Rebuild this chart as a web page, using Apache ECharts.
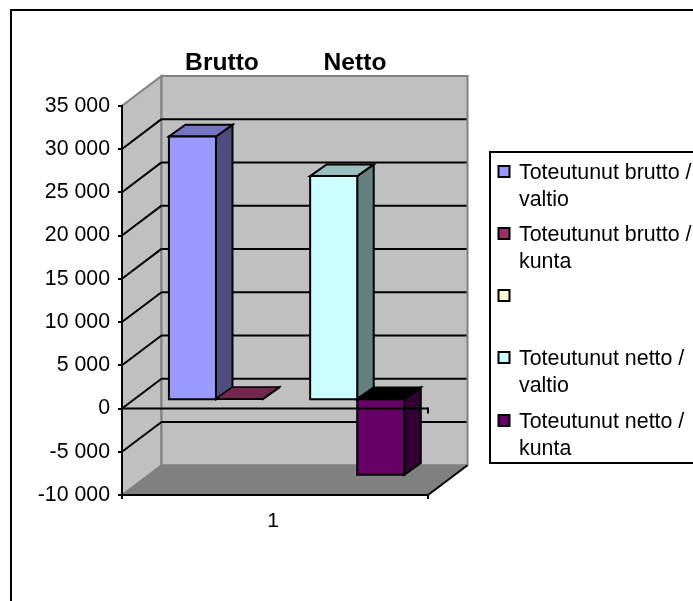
<!DOCTYPE html>
<html><head><meta charset="utf-8">
<style>html,body{margin:0;padding:0;background:#fff}#c{width:693px;height:601px}</style>
<script src="https://cdn.jsdelivr.net/npm/echarts@6/dist/echarts.min.js"></script>
</head><body><div id="c"></div>
<script>
const categories = ['1'];
const seriesNames = ['Toteutunut brutto /\nvaltio','Toteutunut brutto /\nkunta','','Toteutunut netto /\nvaltio','Toteutunut netto /\nkunta'];
const bruttoValtio = [30370];
const bruttoKunta = [60];
const tyhja = [null];
const nettoValtio = [25790];
const nettoKunta = [-8740];
const frontColors = ['#9999FF','#993366','#FFFFCC','#CCFFFF','#660066'];
const sideColors = ['#4D4D80','#4D1A33','#808066','#668080','#330033'];
const topColors = ['#7373BF','#732650','#BFBF99','#99BFBF','#000000'];
const yMin=-10000, yMax=35000, yStep=5000;
const headings = ['Brutto','Netto'];
const FONT='"Liberation Sans", Arial, sans-serif';

const WALL_DX=39.5, WALL_DY=-29.8;   // depth of the 3D box
const BAR_DX=11.6, BAR_DY=-9.3;      // front plane of the bars
const DEPTH_DX=16.5, DEPTH_DY=-11.7; // depth of a bar
const INK='#000', LW=2;

function poly(points,fill,stroke,w){
  return {type:'polygon',shape:{points},style:{fill:fill,stroke:stroke||null,lineWidth:w||0}};
}
function seg(x1,y1,x2,y2,c,w){
  return {type:'line',shape:{x1,y1,x2,y2},style:{stroke:c||INK,lineWidth:w||LW}};
}
function wallItem(params,api){
  const cs=params.coordSys, L=cs.x, R=cs.x+cs.width;
  const Y=v=>api.coord([0,v])[1];
  const top=Y(yMax), bot=Y(yMin), grey='#808080';
  const ch=[
    poly([[L,top],[L+WALL_DX,top+WALL_DY],[L+WALL_DX,bot+WALL_DY],[L,bot]],'#C0C0C0',grey,2),
    poly([[L+WALL_DX,top+WALL_DY],[R+WALL_DX,top+WALL_DY],[R+WALL_DX,bot+WALL_DY],[L+WALL_DX,bot+WALL_DY]],'#C0C0C0',grey,2),
    poly([[L,bot],[L+WALL_DX,bot+WALL_DY],[R+WALL_DX,bot+WALL_DY],[R,bot]],'#808080',null,0),
    seg(R,bot,R+WALL_DX,bot+WALL_DY,INK,2)
  ];
  for(let v=yMin+yStep;v<yMax;v+=yStep){
    const y=Y(v);
    ch.push(seg(L,y,L+WALL_DX,y+WALL_DY));
    ch.push(seg(L+WALL_DX,y+WALL_DY,R+WALL_DX-1,y+WALL_DY));
  }
  return {type:'group',children:ch};
}
function barItem(slot){
  return function(params,api){
    const v=api.value(1);
    if(v==null||isNaN(v)) return null;
    const cs=params.coordSys, band=api.size([1,0])[0], w=band/6.5;
    const x0=cs.x+BAR_DX+band*0.5-w*2.5+slot*w, x1=x0+w;
    const ya=api.coord([0,0])[1]+BAR_DY, yb=api.coord([0,v])[1]+BAR_DY;
    const t=Math.min(ya,yb), b=Math.max(ya,yb);
    const dx=DEPTH_DX, dy=DEPTH_DY, flat=b-t<2;
    const lw=flat?1.5:LW;
    return {type:'group',children:[
      poly([[x1,t],[x1+dx,t+dy],[x1+dx,b+dy],[x1,b]],sideColors[slot],INK,lw),
      poly([[x0,t],[x0+dx,t+dy],[x1+dx,t+dy],[x1,t]],topColors[slot],INK,lw),
      poly([[x0,t],[x1,t],[x1,b],[x0,b]],frontColors[slot],INK,lw)
    ]};
  };
}
function zeroItem(params,api){
  const cs=params.coordSys, y=api.coord([0,0])[1], R=cs.x+cs.width;
  return {type:'group',children:[seg(cs.x,y,R,y),seg(R,y-1,R,y+5)]};
}
const valueLists=[bruttoValtio,bruttoKunta,tyhja,nettoValtio,nettoKunta];
const base={type:'custom',coordinateSystem:'cartesian2d',silent:true,animation:false,clip:false};
const series=[
  Object.assign({},base,{name:'seinät',z:1,renderItem:wallItem,data:[[0,0]]})
];
valueLists.forEach((vals,i)=>{
  series.push(Object.assign({},base,{name:seriesNames[i]||'tyhjä',z:3+i*0.1,renderItem:barItem(i),
    data:vals.map((v,k)=>[k,v])}));
});
series.push(Object.assign({},base,{name:'nolla',z:5,renderItem:zeroItem,data:[[0,0]]}));

const legendRowY=[173,235,297,359,422];
const legendG=[];
legendG.push({type:'rect',shape:{x:490,y:152,width:300,height:311},style:{fill:'#fff',stroke:INK,lineWidth:2},z:1});
seriesNames.forEach((n,i)=>{
  const y=legendRowY[i];
  legendG.push({type:'rect',shape:{x:498.5,y:y-7,width:11,height:11},style:{fill:frontColors[i],stroke:INK,lineWidth:2},z:2});
  if(n) legendG.push({type:'text',x:519,y:y-13,z:2,style:{text:n,font:'21.4px '+FONT,fill:INK,lineHeight:26.5,verticalAlign:'top',align:'left'}});
});
const frame={type:'rect',shape:{x:11,y:10,width:900,height:900},style:{fill:'none',stroke:INK,lineWidth:2},z:0};

const chart=echarts.init(document.getElementById('c'),null,{renderer:'canvas'});
chart.setOption({
  animation:false,
  backgroundColor:'#fff',
  title:[
    {text:headings[0],left:217,top:46,textAlign:'center',textStyle:{fontFamily:FONT,fontSize:24.6,fontWeight:'bold',color:INK}},
    {text:headings[1],left:350,top:46,textAlign:'center',textStyle:{fontFamily:FONT,fontSize:24.6,fontWeight:'bold',color:INK}}
  ],
  grid:{left:122,top:105.7,width:306,height:389.3,containLabel:false},
  xAxis:{type:'category',data:categories,z:6,
    axisLine:{onZero:false,lineStyle:{color:INK,width:LW}},
    axisTick:{show:true,length:4,lineStyle:{color:INK,width:LW}},
    axisLabel:{fontFamily:FONT,fontSize:21,color:INK,margin:16,padding:[0,4,0,0]},
    splitLine:{show:false}},
  yAxis:{type:'value',min:yMin,max:yMax,interval:yStep,z:6,
    axisLine:{show:true,lineStyle:{color:INK,width:LW}},
    axisTick:{show:true,length:4,lineStyle:{color:INK,width:LW}},
    axisLabel:{fontFamily:FONT,fontSize:21.3,color:INK,margin:12,padding:[2,0,0,0],
      formatter:v=>String(v).replace(/\B(?=(\d{3})+$)/g,' ')},
    splitLine:{show:false}},
  graphic:[frame].concat(legendG),
  series
});
</script></body></html>
